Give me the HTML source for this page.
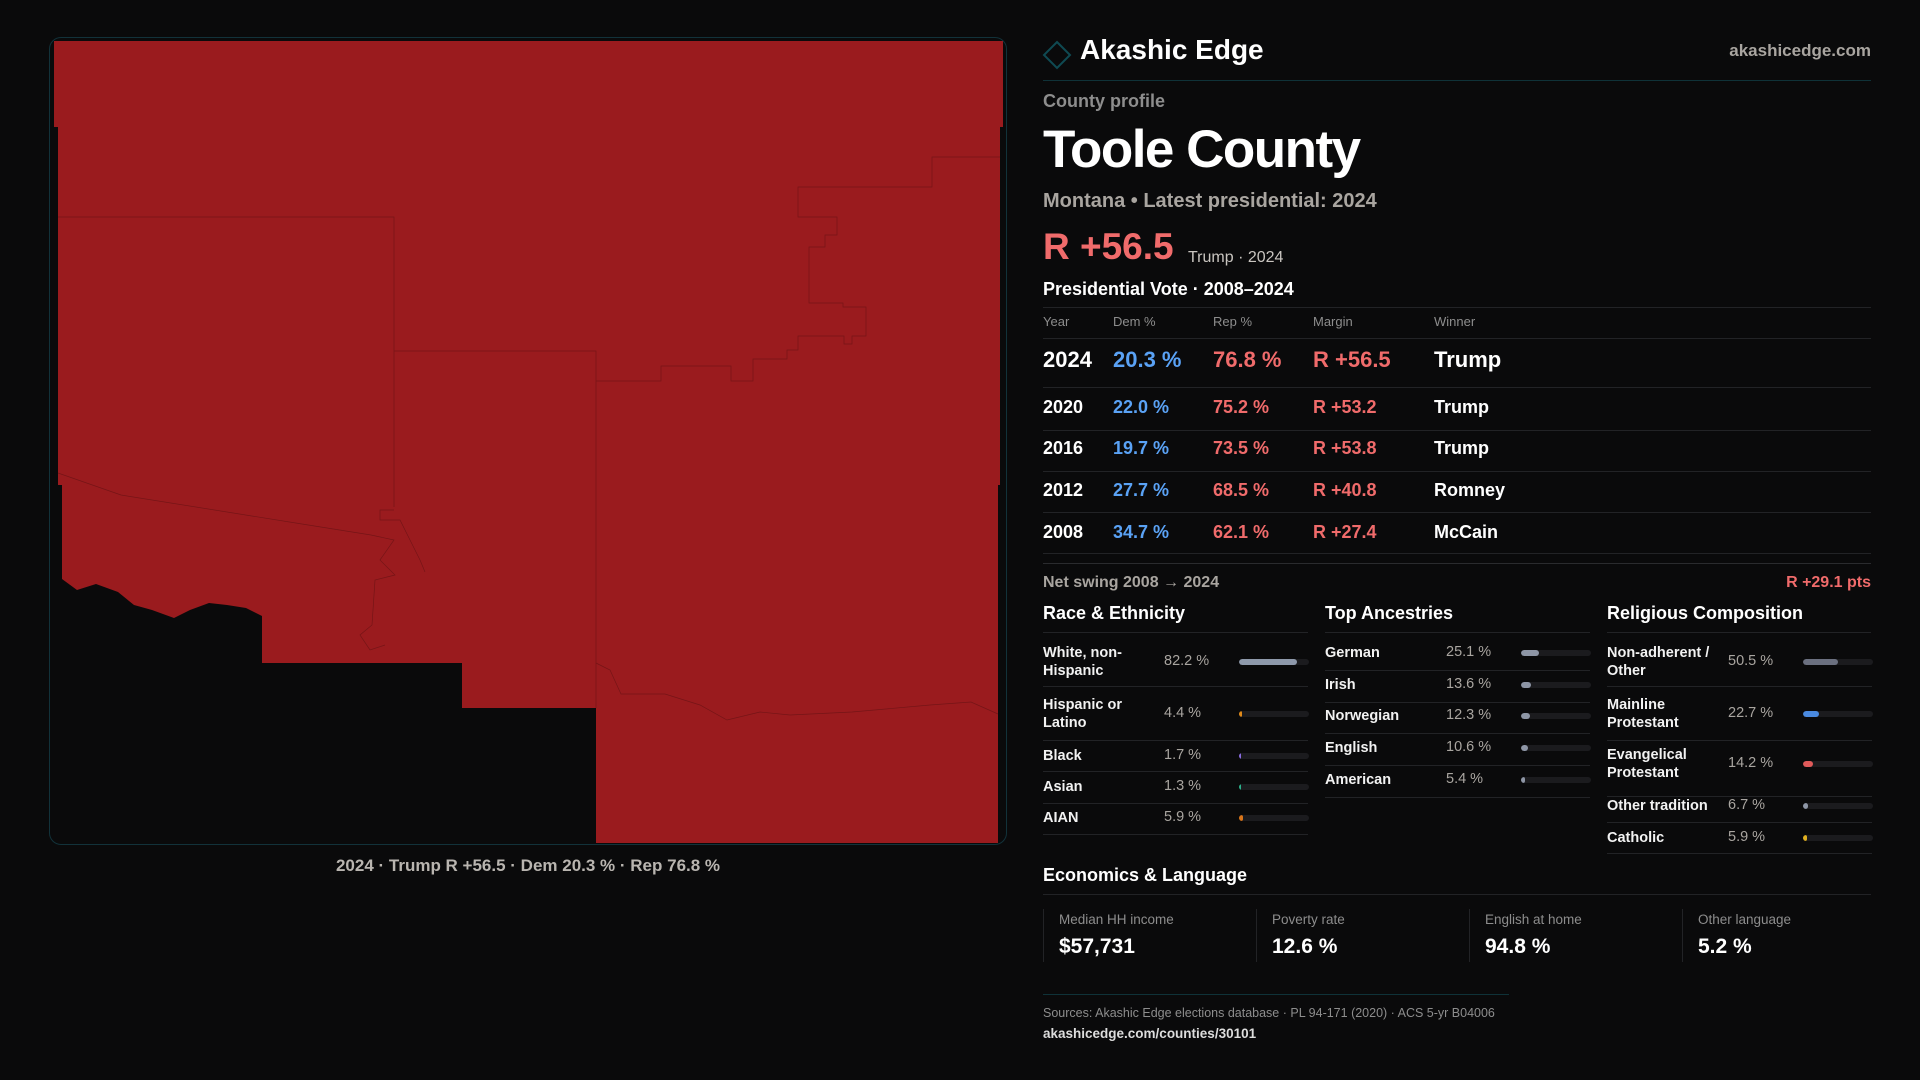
<!DOCTYPE html>
<html><head><meta charset="utf-8">
<style>
*{margin:0;padding:0;box-sizing:border-box}
body{width:1920px;height:1080px;background:#0a0a0b;font-family:"Liberation Sans",sans-serif;color:#fff;position:relative;overflow:hidden}
.a{position:absolute;white-space:nowrap}
.ln{position:absolute;height:1px;background:#222326}
.hd{font-size:13px;color:#8d8d8d;top:314px}
.sec{font-size:18px;font-weight:bold}
.lbl{font-size:14.5px;font-weight:bold;color:#f2f2f2;line-height:18px;white-space:normal}
.val{font-size:14.5px;color:#a9a5a0}
.trk{position:absolute;height:6px;border-radius:3px;background:#1b1b1e;overflow:hidden}
.fill{height:6px;border-radius:3px}
.card{position:absolute;top:909px;height:53px;border-left:1px solid #222326;padding-left:15px}
.cl{font-size:13.5px;color:#8d8d8d;margin-top:3px}
.cv{font-size:21px;font-weight:bold;margin-top:8px}
</style></head><body>

<div class="a" style="left:49px;top:37px;width:958px;height:808px;border:1px solid #12323a;border-radius:12px;"></div>
<svg class="a" style="left:0;top:0" width="1920" height="1080">
<polygon fill="#9a1b1e" points="54,41 1003,41 1003,127 1000,127 1000,485 998,485 998,843 596,843 596,708 462,708 462,663 262,663 262,616 246,608 227,605 209,603 190,610 174,618 152,610 134,605 118,592 96,584 77,590 62,579 62,485 58,485 58,127 54,127"/>
<g fill="none" stroke="#5e1012" stroke-width="0.7" opacity="0.6">
<polyline points="58,217 394,217 394,507"/>
<polyline points="394,351 596,351 596,708"/>
<polyline points="596,381 661,381 661,366 731,366 731,381 753,381 753,359 787,359 787,350 798,350 798,336 844,336 844,344 852,344 852,336 866,336 866,307 843,307 843,303 809,303 809,247 825,247 825,235 837,235 837,217 798,217 798,187 932,187 932,157 1000,157"/>
<polyline points="58,473 121,495 302,524 371,535 394,540 380,560 395,575 375,580 372,625 360,635 370,650 385,645"/>
<polyline points="596,663 610,670 621,694 665,694 700,705 727,720 760,712 790,715 852,712 930,705 971,702 998,714"/>
<polyline points="394,510 380,510 380,520 400,520 410,540 420,560 425,572"/>
</g>
</svg>
<div class="a" style="left:0;width:1056px;top:856px;text-align:center;font-size:17px;color:#b9b5b0;font-weight:bold">2024 · Trump R +56.5 · Dem 20.3 % · Rep 76.8 %</div>

<svg class="a" style="left:1042px;top:40px" width="30" height="30"><polygon points="15,2 28,15 15,28 2,15" fill="none" stroke="#0f4a52" stroke-width="2"/></svg>
<div class="a" style="left:1080px;top:34px;font-size:28px;font-weight:bold">Akashic Edge</div>
<div class="a" style="right:49px;top:41px;font-size:17px;color:#a9a5a0;font-weight:bold">akashicedge.com</div>
<div class="ln" style="left:1043px;width:828px;top:80px;background:#0f3238"></div>
<div class="a" style="left:1043px;top:91px;font-size:18px;color:#8d8d8d;font-weight:bold">County profile</div>
<div class="a" style="left:1043px;top:119px;font-size:53px;font-weight:bold;letter-spacing:-1.5px">Toole County</div>
<div class="a" style="left:1043px;top:190px;font-size:20px;color:#a9a5a0;font-weight:bold">Montana • Latest presidential: 2024</div>
<div class="a" style="left:1043px;top:226px;font-size:37px;color:#f06b6b;font-weight:bold">R +56.5</div>
<div class="a" style="left:1188px;top:249px;font-size:16px;color:#c9c5c0">Trump · 2024</div>
<div class="a sec" style="left:1043px;top:279px">Presidential Vote · 2008–2024</div>
<div class="ln" style="left:1043px;width:828px;top:307px"></div>
<div class="a hd" style="left:1043px">Year</div>
<div class="a hd" style="left:1113px">Dem %</div>
<div class="a hd" style="left:1213px">Rep %</div>
<div class="a hd" style="left:1313px">Margin</div>
<div class="a hd" style="left:1434px">Winner</div>
<div class="ln" style="left:1043px;width:828px;top:338px"></div>
<div id="vote-rows"></div>
<div class="ln" style="left:1043px;width:828px;top:563px;background:#2a2b2e"></div>
<div class="a" style="left:1043px;top:574px;font-size:16px;color:#a9a5a0;font-weight:bold">Net swing 2008 → 2024</div>
<div class="a" style="right:49px;top:574px;font-size:16px;color:#f06b6b;font-weight:bold">R +29.1 pts</div>

<div class="a sec" style="left:1043px;top:603px">Race &amp; Ethnicity</div>
<div class="a sec" style="left:1325px;top:603px">Top Ancestries</div>
<div class="a sec" style="left:1607px;top:603px">Religious Composition</div>
<div class="ln" style="left:1043px;width:265px;top:632px"></div>
<div class="ln" style="left:1325px;width:265px;top:632px"></div>
<div class="ln" style="left:1607px;width:264px;top:632px"></div>
<div id="bars"></div>

<div class="a sec" style="left:1043px;top:865px">Economics &amp; Language</div>
<div class="ln" style="left:1043px;width:828px;top:894px"></div>
<div class="card" style="left:1043px"><div class="cl">Median HH income</div><div class="cv">$57,731</div></div>
<div class="card" style="left:1256px"><div class="cl">Poverty rate</div><div class="cv">12.6 %</div></div>
<div class="card" style="left:1469px"><div class="cl">English at home</div><div class="cv">94.8 %</div></div>
<div class="card" style="left:1682px"><div class="cl">Other language</div><div class="cv">5.2 %</div></div>
<div class="ln" style="left:1043px;width:466px;top:994px;background:#0f3238"></div>
<div class="a" style="left:1043px;top:1006px;font-size:12.5px;color:#8d8d8d">Sources: Akashic Edge elections database · PL 94-171 (2020) · ACS 5-yr B04006</div>
<div class="a" style="left:1043px;top:1026px;font-size:13.5px;color:#ddd;font-weight:bold">akashicedge.com/counties/30101</div>

<script>
const years=["2024","2020","2016","2012","2008"];
const demPct=[20.3,22.0,19.7,27.7,34.7];
const repPct=[76.8,75.2,73.5,68.5,62.1];
const winners=["Trump","Trump","Trump","Romney","McCain"];
const raceLabels=["White, non-Hispanic","Hispanic or Latino","Black","Asian","AIAN"];
const raceVals=[82.2,4.4,1.7,1.3,5.9];
const ancLabels=["German","Irish","Norwegian","English","American"];
const ancVals=[25.1,13.6,12.3,10.6,5.4];
const relLabels=["Non-adherent / Other","Mainline Protestant","Evangelical Protestant","Other tradition","Catholic"];
const relVals=[50.5,22.7,14.2,6.7,5.9];

const twoLine=["White, non-Hispanic","Hispanic or Latino","Non-adherent / Other","Mainline Protestant","Evangelical Protestant"];
const rowTops=[347,397,438,480,522], rowSep=[387,430,471,512,553];
const vr=document.getElementById('vote-rows');
years.forEach((y,i)=>{
  const big=i===0, fs=big?22:18;
  const m=(repPct[i]-demPct[i]).toFixed(1);
  const cells=[[1043,y,'#fff','year'],[1113,demPct[i].toFixed(1)+' %','#5aa2f5','dem'],[1213,repPct[i].toFixed(1)+' %','#f06b6b','rep'],[1313,'R +'+m,'#f06b6b','margin'],[1434,winners[i],'#fff','winner']];
  cells.forEach(c=>{
    const d=document.createElement('div');
    d.className='a';
    
    
    d.style.cssText=`left:${c[0]}px;top:${rowTops[i]}px;font-size:${fs}px;color:${c[2]};font-weight:bold`;
    d.textContent=c[1];vr.appendChild(d);
  });
  const l=document.createElement('div');l.className='ln';
  
  
  l.style.cssText=`left:1043px;width:828px;top:${rowSep[i]}px`;vr.appendChild(l);
});

const bars=document.getElementById('bars');
function group(x,labels,vals,colors,centers,seps,name){
  labels.forEach((lab,i)=>{
    const two=twoLine.includes(lab);
    const L=document.createElement('div');L.className='a lbl';
    
    
    L.style.cssText=`left:${x}px;top:${centers[i]-(two?18:9)}px;width:${two?110:140}px`;
    L.textContent=lab;bars.appendChild(L);
    const V=document.createElement('div');V.className='a val';
    
    
    V.style.cssText=`left:${x+121}px;top:${centers[i]-9}px`;
    V.textContent=vals[i].toFixed(1)+' %';bars.appendChild(V);
    const T=document.createElement('div');T.className='trk';
    
    
    T.style.cssText=`left:${x+196}px;top:${centers[i]-3}px;width:70px`;
    const F=document.createElement('div');F.className='fill';
    F.style.width=Math.max(2,vals[i]/100*70)+'px';F.style.background=colors[i];
    T.appendChild(F);bars.appendChild(T);
    const S=document.createElement('div');S.className='ln';
    
    
    S.style.cssText=`left:${x}px;width:265px;top:${seps[i]}px`;bars.appendChild(S);
  });
}
group(1043,raceLabels,raceVals,['#8e99ab','#e08a1a','#8a6ce0','#2bb08a','#d9751a'],[662,714,756,787,818],[686,740,771,803,834],'race');
group(1325,ancLabels,ancVals,['#8e96a6','#8e96a6','#8e96a6','#8e96a6','#8e96a6'],[653,685,716,748,780],[670,702,733,765,797],'ancestry');
group(1607,relLabels,relVals,['#6b7080','#4a8ae0','#e05a5a','#8e96a6','#e0b020'],[662,714,764,806,838],[686,740,796,822,853],'religion');
</script>
</body></html>
